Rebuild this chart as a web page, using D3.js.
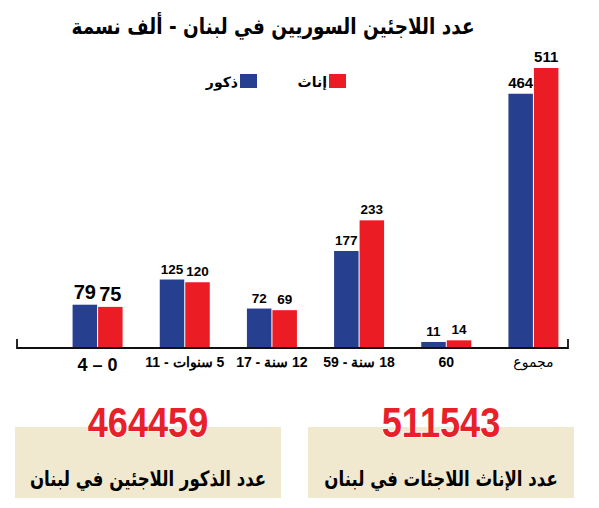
<!DOCTYPE html>
<html>
<head>
<meta charset="utf-8">
<script src="https://cdn.jsdelivr.net/npm/d3@7"></script>
<style>
	body { margin: 0; background: #fff; }
	svg { display: block; }
	.num { font-family: "Liberation Sans", Arial, sans-serif; font-weight: bold; }
	.ar { font-family: "DejaVu Sans", sans-serif; font-weight: bold; }
</style>
</head>
<body>
<svg id="chart" width="599" height="508"></svg>
<script>

// age groups, in thousands of people
const CATEGORIES = ['0 – 4', '5 سنوات - 11', '12 سنة - 17', '18 سنة - 59', '60', 'مجموع'];
const MALES = [79, 125, 72, 177, 11, 464];
const FEMALES = [75, 120, 69, 233, 14, 511];
const SERIES = ['ذكور', 'إناث'];

const TOTALS = [464459, 511543];
const TOTAL_LABELS = ['عدد الذكور اللاجئين في لبنان', 'عدد الإناث اللاجئات في لبنان'];

const TITLE = 'عدد اللاجئين السوريين في لبنان - ألف نسمة';
const COLORS = ['#263f8f', '#ec1c24'];

function whenDocumentLoaded(action) {
	if (document.readyState === "loading") {
		document.addEventListener("DOMContentLoaded", action);
	} else {
		action();
	}
}

// squeeze text horizontally around its anchor point
const place = (sel, x, y, sx) => sel.attr('transform', `translate(${x},${y}) scale(${sx},1)`);

whenDocumentLoaded(() => {
	const svg = d3.select('#chart');

	const data = CATEGORIES.map((c, i) => ({ cat: c, values: [MALES[i], FEMALES[i]] }));

	const x = d3.scaleBand().domain(CATEGORIES).range([54, 577]).padding(0);
	const xSub = d3.scaleBand().domain([0, 1]).range([0, 50]).paddingInner(0.04);
	const y = d3.scaleLinear().domain([0, 511]).range([348, 68]);

	// title
	svg.append('text')
		.attr('class', 'ar')
		.attr('text-anchor', 'middle')
		.attr('direction', 'rtl')
		.style('font-size', '22px')
		.text(TITLE)
		.call(place, 273, 34, 0.84);

	// legend (red on the right, blue on the left)
	const legend = svg.append('g');
	const legendX = [257, 346];
	SERIES.forEach((s, i) => {
		legend.append('rect')
			.attr('x', legendX[i] - 17).attr('y', 74)
			.attr('width', 17).attr('height', 14)
			.attr('fill', COLORS[i]);
		legend.append('text')
			.attr('class', 'ar')
			.attr('x', legendX[i] - 19).attr('y', 87)
			.attr('text-anchor', 'start')
			.attr('direction', 'rtl')
			.style('font-size', '14px')
			.text(s);
	});

	// bars
	const groups = svg.selectAll('g.group')
		.data(data)
		.enter().append('g')
		.attr('class', 'group')
		.attr('transform', (d) => `translate(${x(d.cat) + x.bandwidth() / 2 - 25},0)`);

	groups.selectAll('rect')
		.data((d) => d.values)
		.enter().append('rect')
		.attr('x', (d, i) => xSub(i))
		.attr('y', (d) => y(d))
		.attr('width', xSub.bandwidth())
		.attr('height', (d) => y(0) - y(d))
		.attr('fill', (d, i) => COLORS[i]);

	const labelSize = (gi) => gi === 0 ? 20 : (gi === data.length - 1 ? 15 : 13.5);

	groups.each(function (d, gi) {
		d3.select(this).selectAll('text.val')
			.data(d.values)
			.enter().append('text')
			.attr('class', 'num val')
			.attr('x', (v, i) => xSub(i) + xSub.bandwidth() / 2)
			.attr('y', (v) => y(v) - 6)
			.attr('text-anchor', 'middle')
			.style('font-size', labelSize(gi) + 'px')
			.text((v) => v);
	});

	// baseline with end ticks
	svg.append('path')
		.attr('d', `M17,${y(0) - 9}V${y(0)}H568V${y(0) - 9}`)
		.attr('fill', 'none')
		.attr('stroke', '#111')
		.attr('stroke-width', 1.8);

	// category labels
	const last = CATEGORIES.length - 1;
	svg.selectAll('text.cat')
		.data(CATEGORIES)
		.enter().append('text')
		.attr('class', (d, i) => i === last ? 'ar cat' : 'num cat')
		.attr('x', (d) => x(d) + x.bandwidth() / 2)
		.attr('y', (d, i) => i === 0 ? 371 : 367)
		.attr('text-anchor', 'middle')
		.attr('direction', 'rtl')
		.style('font-size', (d, i) => i === 0 ? '18px' : '14px')
		.style('font-weight', (d, i) => i === last ? 'normal' : 'bold')
		.text((d) => d);

	// total boxes
	const boxX = [15, 308];
	TOTALS.forEach((t, i) => {
		const cx = boxX[i] + 133;
		svg.append('rect')
			.attr('x', boxX[i]).attr('y', 427)
			.attr('width', 266).attr('height', 71)
			.attr('fill', '#f1e8d0');
		svg.append('text')
			.attr('class', 'num')
			.attr('text-anchor', 'middle')
			.attr('fill', '#e8202a')
			.attr('stroke', '#fff')
			.attr('stroke-width', 2)
			.attr('paint-order', 'stroke')
			.style('font-size', '42px')
			.text(t)
			.call(place, cx, 437, 0.86);
		svg.append('text')
			.attr('class', 'ar')
			.attr('text-anchor', 'middle')
			.attr('direction', 'rtl')
			.style('font-size', '21px')
			.text(TOTAL_LABELS[i])
			.call(place, cx, 486, 0.79);
	});
});
</script>
</body>
</html>
